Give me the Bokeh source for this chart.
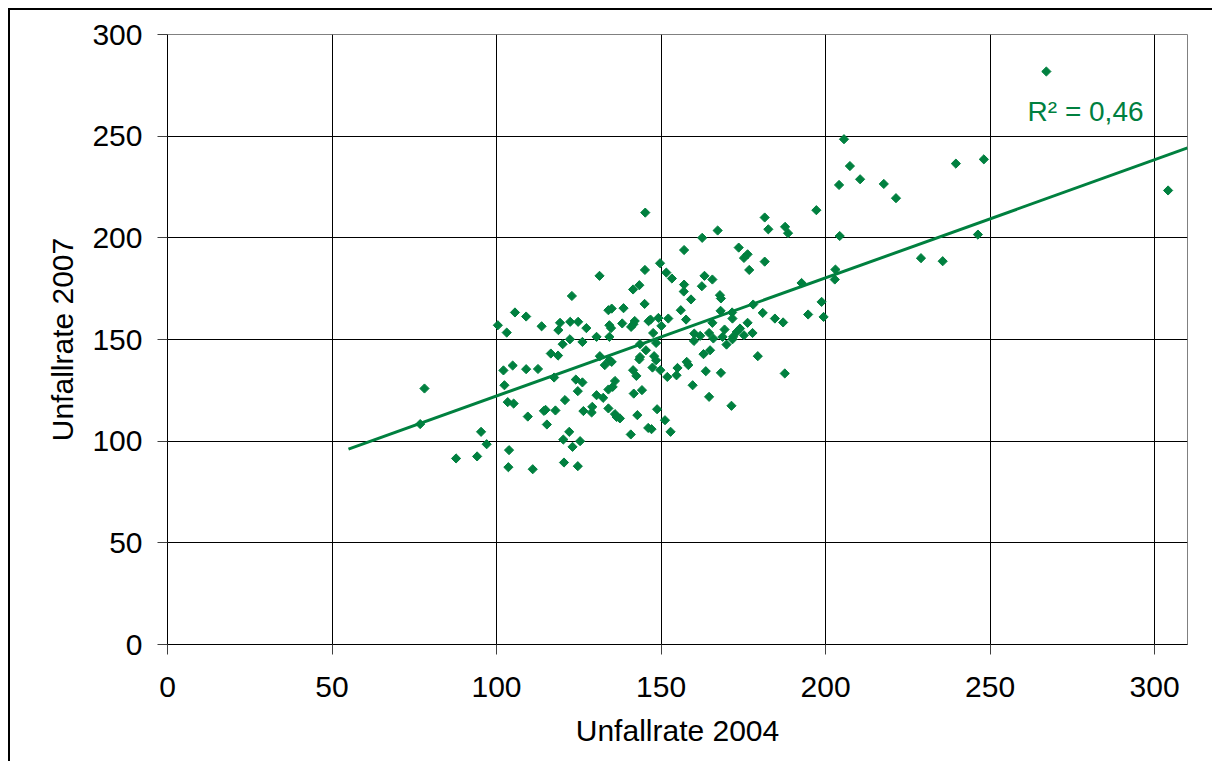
import numpy as np
from bokeh.plotting import figure
from bokeh.models import ColumnDataSource, FixedTicker, Range1d
from bokeh.core.properties import value
from bokeh.embed import file_html
from bokeh.resources import INLINE

# Accident rates per district: 2004 vs 2007
rate_2004 = [
    78.1, 76.8, 95.3, 97.0, 87.7, 94.1, 100.4, 103.1, 105.6, 109.0,
    113.7, 119.3, 118.8, 102.1, 104.9, 109.0, 112.6, 116.5, 118.7, 102.4,
    103.4, 105.2, 109.5, 114.4, 114.9, 117.9, 115.3, 117.5, 103.8, 103.6,
    111.0, 145.2, 157.0, 149.7, 145.1, 151.6, 153.3, 131.3, 143.4, 141.5,
    157.0, 156.9, 159.1, 122.9, 145.0, 138.6, 135.0, 134.0, 156.0, 157.6,
    152.2, 149.2, 146.8, 146.2, 138.2, 142.0, 140.9, 141.6, 134.3, 134.8,
    127.3, 124.8, 122.4, 130.4, 134.3, 150.1, 147.6, 160.1, 122.3, 120.1,
    126.1, 131.4, 134.3, 132.9, 135.0, 143.6, 145.4, 148.5, 147.9, 148.5,
    147.4, 149.8, 151.9, 143.6, 143.4, 141.5, 142.5, 155.0, 154.7, 157.8,
    158.3, 159.6, 160.0, 124.1, 126.1, 124.7, 136.0, 135.3, 134.0, 130.4,
    132.4, 120.8, 129.1, 126.4, 128.9, 134.0, 136.0, 136.5, 137.5, 141.7,
    144.2, 142.8, 148.8, 151.2, 146.1, 147.1, 152.9, 140.8, 122.1, 120.3,
    125.4, 123.1, 120.5, 124.7, 181.5, 197.2, 167.2, 162.5, 182.6, 187.7,
    188.6, 173.6, 176.3, 175.2, 181.5, 176.8, 163.2, 165.6, 162.4, 167.9,
    168.2, 192.7, 203.0, 202.8, 198.8, 199.4, 194.7, 178.0, 168.1, 171.6,
    171.7, 180.9, 184.6, 187.1, 165.6, 176.3, 169.3, 174.0, 177.8, 164.6,
    161.9, 168.7, 171.9, 175.2, 173.0, 165.9, 169.9, 171.7, 162.9, 164.9,
    179.4, 163.6, 168.2, 187.6, 164.6, 171.4, 267.1, 205.6, 207.4, 210.5,
    204.1, 217.7, 221.4, 239.6, 248.1, 304.1, 204.3, 246.3, 229.0, 235.6,
]
rate_2007 = [
    125.9, 108.4, 104.6, 98.5, 91.5, 92.5, 157.0, 153.4, 163.3, 161.3,
    156.5, 158.2, 154.6, 134.8, 137.2, 135.4, 135.5, 143.1, 142.1, 127.5,
    119.2, 118.5, 112.1, 114.9, 115.4, 115.1, 108.2, 131.3, 95.6, 87.2,
    86.2, 212.4, 194.0, 187.5, 184.2, 182.9, 180.0, 181.3, 176.7, 174.6,
    177.0, 173.6, 169.7, 171.4, 167.5, 165.4, 165.2, 164.4, 164.4, 159.8,
    160.3, 160.6, 159.8, 159.0, 157.9, 159.1, 156.2, 157.5, 157.0, 155.6,
    155.6, 158.7, 158.7, 151.3, 151.3, 156.7, 153.2, 152.9, 150.1, 147.7,
    148.8, 141.8, 139.8, 137.4, 139.0, 147.7, 144.7, 148.3, 141.8, 139.8,
    136.2, 134.9, 131.6, 141.4, 140.2, 134.9, 132.1, 136.0, 132.4, 139.0,
    137.4, 127.5, 149.3, 130.3, 128.9, 124.6, 129.6, 126.7, 125.4, 122.6,
    121.3, 120.2, 116.9, 114.8, 114.1, 116.1, 113.3, 111.9, 111.2, 123.4,
    125.1, 112.8, 115.7, 110.3, 106.5, 105.9, 104.6, 103.3, 104.6, 100.8,
    100.0, 97.2, 89.5, 87.7, 210.0, 213.6, 203.6, 200.0, 204.2, 205.4,
    202.3, 195.2, 191.9, 190.1, 188.3, 184.2, 181.3, 179.5, 176.2, 171.8,
    170.2, 177.8, 184.4, 179.5, 168.5, 161.1, 162.3, 167.2, 164.1, 163.3,
    160.3, 163.1, 160.3, 158.4, 158.2, 158.2, 154.9, 155.4, 153.2, 153.2,
    151.8, 151.3, 151.3, 152.1, 153.7, 150.5, 147.5, 150.1, 142.8, 144.7,
    141.8, 134.4, 133.6, 133.3, 121.8, 117.4, 281.8, 248.5, 235.3, 228.8,
    226.0, 226.5, 219.5, 236.5, 238.6, 223.3, 200.9, 201.6, 190.0, 188.5,
]

x_ticks = [0, 50, 100, 150, 200, 250, 300]
y_ticks = [0, 50, 100, 150, 200, 250, 300]

# linear trend as published with the chart (y = a*x + b), drawn from x=55 to the axis end
trend_slope = 0.581
trend_intercept = 64.1
trend_start, trend_end = 55.0, 310.0
r_squared_label = "R² = 0,46"

GREEN = "#00803F"
FONT = "Liberation Sans"

trend_x = np.array([trend_start, trend_end])
trend_y = trend_slope * trend_x + trend_intercept

p = figure(
    width=1204, height=753,
    x_range=Range1d(0, 310), y_range=Range1d(0, 300),
    output_backend="svg", toolbar_location=None,
    min_border_left=157, min_border_right=27,
    min_border_top=24, min_border_bottom=119,
    background_fill_color="white", border_fill_color="white",
)
p.margin = (8, 0, 0, 8)
p.styles = {"border-left": "2px solid black", "border-top": "2px solid black"}

p.outline_line_color = "#808080"
p.outline_line_width = 1

for ax, ticks, title in ((p.xaxis, x_ticks, "Unfallrate 2004"),
                         (p.yaxis, y_ticks, "Unfallrate 2007")):
    ax.ticker = FixedTicker(ticks=ticks)
    ax.minor_tick_line_color = None
    ax.major_tick_in = 0
    ax.major_tick_out = 10
    ax.major_tick_line_color = "#404040"
    ax.axis_line_color = "black"
    ax.major_label_text_font = FONT
    ax.major_label_text_font_size = "30px"
    ax.major_label_text_color = "black"
    ax.axis_label = title
    ax.axis_label_text_font = FONT
    ax.axis_label_text_font_size = "30px"
    ax.axis_label_text_font_style = "normal"
    ax.axis_label_text_color = "black"

p.xaxis.major_label_standoff = 22
p.yaxis.major_label_standoff = 15
p.xaxis.axis_label_standoff = 14
p.yaxis.axis_label_standoff = 10

p.xgrid.ticker = FixedTicker(ticks=x_ticks)
p.ygrid.ticker = FixedTicker(ticks=y_ticks)
p.grid.grid_line_color = "black"
p.grid.grid_line_width = 1
p.grid.grid_line_alpha = 1.0

src = ColumnDataSource(dict(x=rate_2004, y=rate_2007))
p.scatter("x", "y", source=src, marker="square", size=6.5, angle=np.pi / 4,
          fill_color=GREEN, line_color=GREEN)

p.line(trend_x, trend_y, line_color=GREEN, line_width=3)

p.text(x=[261.4], y=[262.3], text=[r_squared_label],
       text_font=value(FONT), text_font_size="28px", text_color=GREEN,
       text_baseline="alphabetic", text_align="left")

open("out.html", "w").write(file_html(p, INLINE))
